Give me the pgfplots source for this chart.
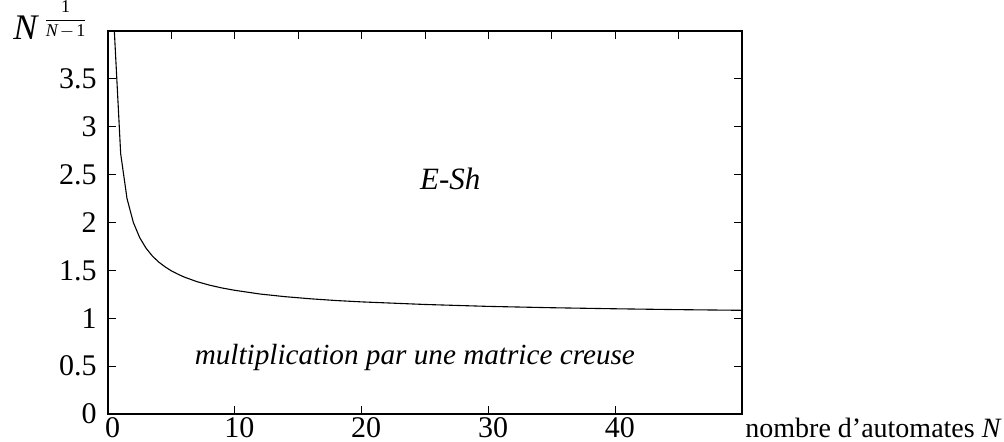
\documentclass[border=0pt]{standalone}
\usepackage{amsmath}
\usepackage{fontspec}
\setmainfont{Liberation Serif}
\usepackage{pgfplots}
\pgfplotsset{compat=1.18}

\begin{document}
\fontsize{15}{18}\selectfont
\begin{tikzpicture}
\useasboundingbox (-54pt,-13.5pt) rectangle (448pt,207pt);
\begin{axis}[
    at={(0,0)}, anchor=south west,
    scale only axis,
    width=317pt, height=191.5pt,
    xmin=0, xmax=50, ymin=0, ymax=4,
    xtick={0,10,...,40}, xtick pos=bottom,
    ytick={0,0.5,...,3.5},
    tick align=inside,
    major tick length=4pt,
    axis line style={line width=0.6pt},
    every tick/.style={black, line width=0.5pt},
    /pgf/number format/assume math mode=true,
    ticklabel style={font=\fontsize{15}{18}\selectfont},
    xticklabel style={xshift=2.3pt, yshift=3.5pt},
    yticklabel style={xshift=-0.5pt},
    clip=false,
]
\addplot[black, line width=0.55pt] coordinates {
    (0.5,4.000) (1.0,2.718) (1.5,2.250) (2.0,2.000) (2.5,1.842)
    (3.0,1.732) (3.5,1.650) (4.0,1.587) (4.5,1.537) (5.0,1.495)
    (5.5,1.461) (6,1.431) (7,1.383) (8,1.346) (9,1.316) (10,1.292)
    (12,1.253) (14,1.225) (16,1.203) (18,1.185) (20,1.171)
    (25,1.144) (30,1.124) (35,1.110) (40,1.099) (45,1.090) (50,1.083)
};
\node[font=\fontsize{15.5}{18}\selectfont\itshape] at (axis cs:27,2.46) {E-Sh};
\node[font=\fontsize{14.6}{17}\selectfont\itshape] at (axis cs:24.2,0.59) {multiplication par une matrice creuse};
\end{axis}
% graduations du haut, tous les 5
\begin{axis}[
    at={(0,0)}, anchor=south west,
    scale only axis,
    width=317pt, height=191.5pt,
    xmin=0, xmax=50, ymin=0, ymax=4,
    axis x line*=top, hide y axis,
    xtick={5,10,...,45}, xticklabels={},
    tick align=inside,
    major tick length=4pt,
    axis line style={line width=0.6pt, -},
    every tick/.style={black, line width=0.5pt},
]
\end{axis}
\node[anchor=base west, inner sep=0, font=\fontsize{14}{17}\selectfont] at (318.5pt,-11.5pt) {nombre d'automates \textit{N}};
\node[anchor=base west, inner sep=0] at (-47.5pt,187.5pt) {{\fontsize{18}{20}\selectfont\itshape N}\hspace{3pt}\raisebox{7.2pt}{\fontsize{9}{10}\selectfont$\dfrac{\text{1}}{\text{\itshape N}\mkern-2mu-\mkern-2mu\text{1}}$}};
\end{tikzpicture}
\end{document}
